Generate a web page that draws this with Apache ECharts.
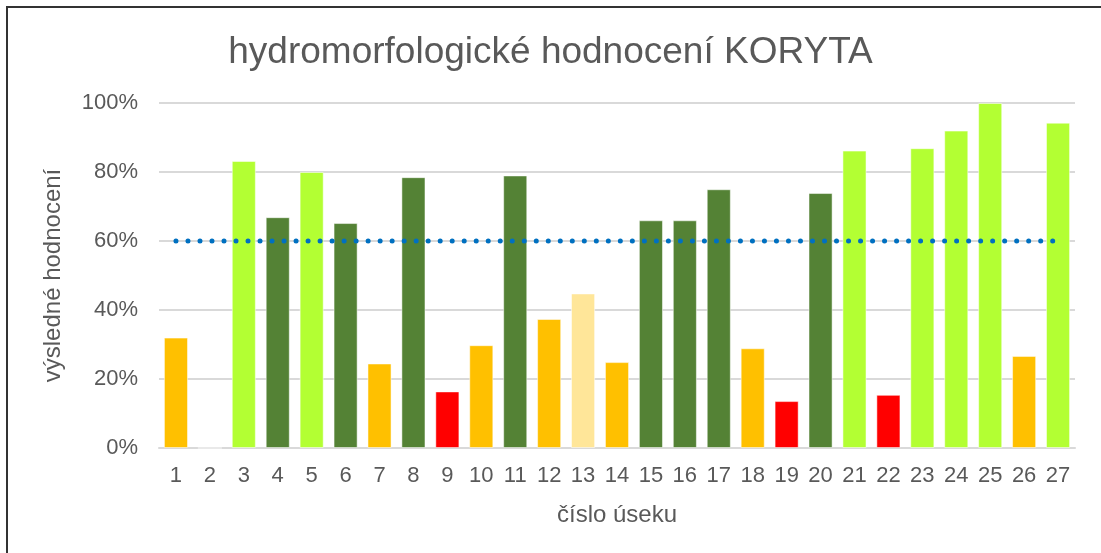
<!DOCTYPE html>
<html>
<head>
<meta charset="utf-8">
<script src="https://cdn.jsdelivr.net/npm/echarts@6/dist/echarts.min.js"></script>
<style>
html,body{margin:0;padding:0;background:#fff;}
#c{width:1101px;height:553px;}
</style>
</head>
<body>
<div id="c"></div>
<script>
const categories = ['1','2','3','4','5','6','7','8','9','10','11','12','13','14','15','16','17','18','19','20','21','22','23','24','25','26','27'];
const values = [32.0, 0, 83.2, 66.9, 80.0, 65.2, 24.5, 78.5, 16.4, 29.8, 79.0, 37.4, 44.8, 24.9, 66.0, 66.0, 75.0, 28.9, 13.6, 73.9, 86.2, 15.4, 86.9, 92.0, 100, 26.7, 94.3];
const colors = ['#FFC000','#FFC000','#B3FF33','#548235','#B3FF33','#548235','#FFC000','#548235','#FF0000','#FFC000','#548235','#FFC000','#FFE699','#FFC000','#548235','#548235','#548235','#FFC000','#FF0000','#548235','#B3FF33','#FF0000','#B3FF33','#B3FF33','#B3FF33','#FFC000','#B3FF33'];
const threshold = categories.map(() => 60);
const yTicks = [0, 20, 40, 60, 80, 100];

const font = 'Liberation Sans';
const chart = echarts.init(document.getElementById('c'), null, {renderer: 'canvas'});
chart.setOption({
  animation: false,
  backgroundColor: '#fff',
  title: {
    text: 'hydromorfologické hodnocení KORYTA',
    left: 'center',
    top: 29,
    textStyle: {fontFamily: font, fontSize: 37, fontWeight: 'normal', color: '#595959'}
  },
  graphic: [{
    type: 'rect',
    shape: {x: 7, y: 7, width: 1300, height: 1300},
    style: {fill: 'none', stroke: '#333', lineWidth: 2},
    silent: true
  }],
  grid: {left: 159, right: 26, top: 103, bottom: 105},
  xAxis: {
    type: 'category',
    data: categories,
    name: 'číslo úseku',
    nameLocation: 'middle',
    nameGap: 55,
    nameTextStyle: {fontFamily: font, fontSize: 24, color: '#595959'},
    axisLine: {show: true, lineStyle: {color: '#d9d9d9', width: 2}},
    axisTick: {show: false},
    axisLabel: {fontFamily: font, fontSize: 22, color: '#595959', margin: 17, interval: 0}
  },
  yAxis: {
    type: 'value',
    min: 0, max: 100, interval: 20,
    name: 'výsledné hodnocení',
    nameLocation: 'middle',
    nameGap: 94,
    nameTextStyle: {fontFamily: font, fontSize: 24, color: '#595959'},
    axisLine: {show: false},
    axisTick: {show: false},
    splitLine: {lineStyle: {color: '#d9d9d9', width: 2}},
    axisLabel: {fontFamily: font, fontSize: 22, color: '#595959', margin: 21,
      formatter: v => yTicks.includes(v) ? v + '%' : ''}
  },
  series: [{
    type: 'bar',
    data: values.map((v, i) => ({value: v, itemStyle: {color: colors[i]}})),
    barCategoryGap: '29%',
    itemStyle: {borderColor: 'rgba(255,255,255,0.5)', borderWidth: 1}
  }, {
    type: 'line',
    data: threshold,
    symbol: 'none',
    z: 5,
    lineStyle: {color: '#0070C0', width: 5, type: [0.01, 12], cap: 'round'}
  }]
});
</script>
</body>
</html>
